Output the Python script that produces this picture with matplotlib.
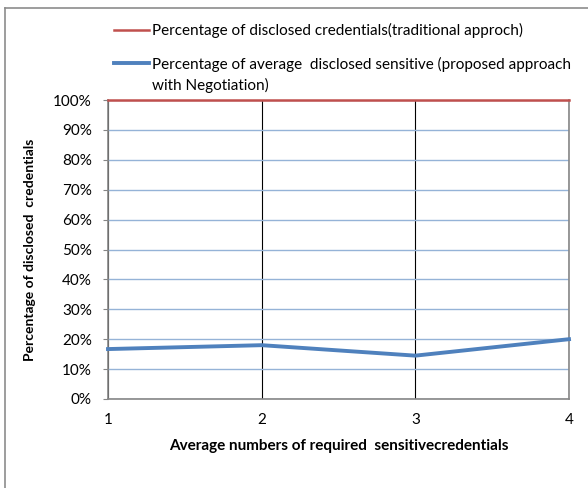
import numpy as np
import matplotlib.pyplot as plt
from matplotlib.lines import Line2D
from matplotlib.legend_handler import HandlerLine2D
from matplotlib.ticker import PercentFormatter

# data
required_credentials = [1, 2, 3, 4]
traditional_pct = [100, 100, 100, 100]
negotiation_pct = [16.7, 18.0, 14.5, 20.0]
y_ticks = np.arange(0, 101, 10)

label_traditional = "Percentage of disclosed credentials(traditional approch)"
label_negotiation = ("Percentage of average  disclosed sensitive (proposed approach\n"
                     "with Negotiation)")

RED = "#C0504D"
BLUE = "#4F81BD"
GRID_BLUE = "#95B3D7"
AXIS_GRAY = "#868686"


# legend handle lined up with the first text line (Excel style)
class RaisedLine(HandlerLine2D):
    def __init__(self, dy, **kw):
        super().__init__(**kw)
        self.dy = dy

    def create_artists(self, legend, orig_handle, xdescent, ydescent,
                       width, height, fontsize, trans):
        arts = super().create_artists(legend, orig_handle, xdescent, ydescent,
                                      width, height, fontsize, trans)
        for a in arts:
            a.set_ydata(np.asarray(a.get_ydata()) + self.dy)
        return arts


plt.rcParams["font.family"] = ["Lato", "DejaVu Sans"]

fig = plt.figure(figsize=(5.88, 4.88), dpi=100)
ax = fig.add_axes([108 / 588, 1 - 399 / 488, (569 - 108) / 588, (399 - 100) / 488])

# outer chart frame (only top and left edges visible)
fig.add_artist(Line2D([5 / 588, 1], [1 - 8 / 488, 1 - 8 / 488],
                      transform=fig.transFigure, color="#8c8c8c", lw=1.2))
fig.add_artist(Line2D([5 / 588, 5 / 588], [0, 1 - 8 / 488],
                      transform=fig.transFigure, color="#8c8c8c", lw=1.2))

red_line, = ax.plot(required_credentials, traditional_pct, color=RED, lw=1.8,
                    label=label_traditional, zorder=4, clip_on=False)
blue_line, = ax.plot(required_credentials, negotiation_pct, color=BLUE, lw=2.8,
                     label=label_negotiation, zorder=4, clip_on=False)

ax.set_xlim(1, 4)
ax.set_ylim(0, 100)
ax.set_xticks(required_credentials)
ax.set_yticks(y_ticks)
ax.yaxis.set_major_formatter(PercentFormatter(decimals=0))

ax.grid(axis="y", color=GRID_BLUE, lw=1.0)
ax.grid(axis="x", color="black", lw=0.8)
ax.set_axisbelow(True)

for side in ["left", "bottom", "right"]:
    ax.spines[side].set_color(AXIS_GRAY)
    ax.spines[side].set_linewidth(1.2)
    ax.spines[side].set_zorder(3)
ax.spines["top"].set_visible(False)

ax.tick_params(axis="y", length=3.6, color=AXIS_GRAY, labelsize=11, pad=8)
ax.tick_params(axis="x", length=0, labelsize=11, pad=10)

ax.set_xlabel("Average numbers of required  sensitivecredentials",
              fontsize=11, fontweight="bold", labelpad=9)
ax.set_ylabel("Percentage of disclosed  credentials",
              fontsize=10, fontweight="bold", labelpad=12)

leg = ax.legend(handles=[red_line, blue_line],
                loc="upper left", bbox_to_anchor=(114 / 588, 1 - 23 / 488),
                bbox_transform=fig.transFigure, frameon=False, fontsize=11,
                handlelength=2.3, handletextpad=0.2, labelspacing=1.25,
                borderpad=0, borderaxespad=0,
                handler_map={blue_line: RaisedLine(9)})
leg.get_texts()[1].set_linespacing(1.5)

fig.savefig("out.png", dpi=100)
